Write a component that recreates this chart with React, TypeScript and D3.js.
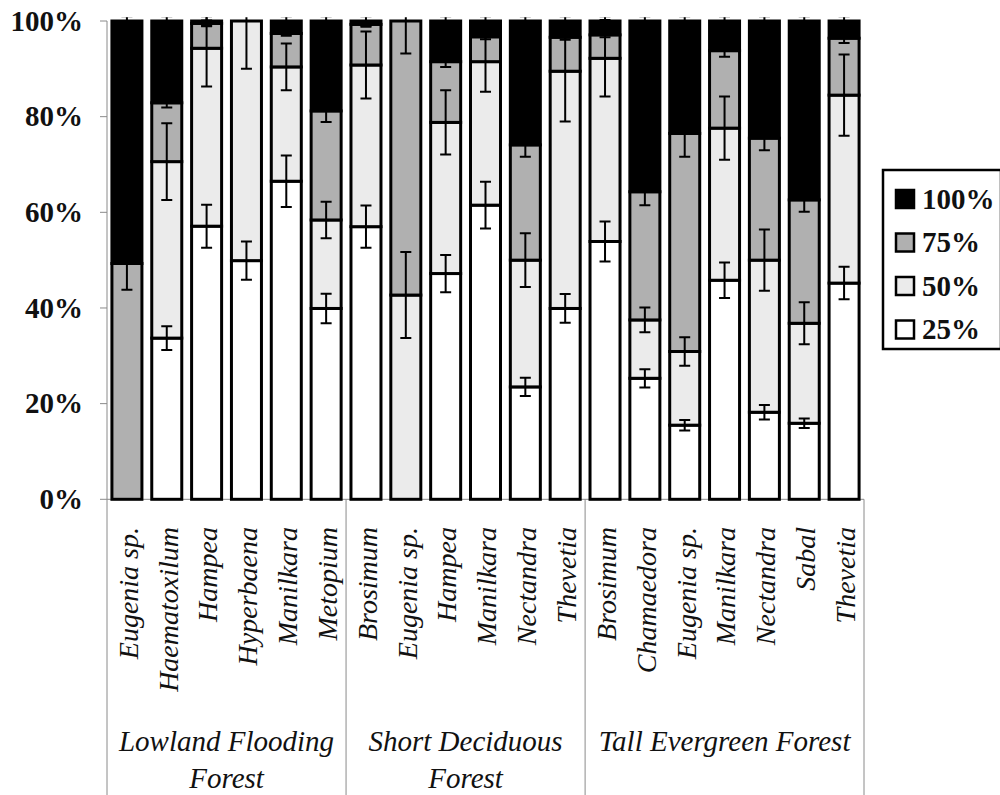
import React from "react";
import * as d3 from "d3";

const species = [
  "Eugenia sp.", "Haematoxilum", "Hampea", "Hyperbaena", "Manilkara", "Metopium",
  "Brosimum", "Eugenia sp.", "Hampea", "Manilkara", "Nectandra", "Thevetia",
  "Brosimum", "Chamaedora", "Eugenia sp.", "Manilkara", "Nectandra", "Sabal", "Thevetia",
];
const groupLabels = [["Lowland Flooding", "Forest"], ["Short Deciduous", "Forest"], ["Tall Evergreen Forest"]];
const groupSizes = [6, 6, 7];

const seriesKeys = ["25%", "50%", "75%", "100%"];
const legendKeys = ["100%", "75%", "50%", "25%"];

// segment values (percent of bar)
const p25 = [0, 33.7, 57.1, 49.9, 66.5, 39.9, 57.0, 0, 47.2, 61.5, 23.5, 39.9, 53.9, 25.3, 15.5, 45.8, 18.2, 15.9, 45.2];
const p50 = [0, 36.9, 37.2, 50.1, 23.9, 18.5, 33.8, 42.7, 31.6, 30.0, 26.5, 49.6, 38.3, 12.2, 15.4, 31.8, 31.8, 20.9, 39.3];
const p75 = [49.3, 12.3, 5.2, 0, 7.0, 22.8, 8.5, 57.3, 12.7, 5.2, 24.1, 7.1, 4.9, 26.8, 45.6, 16.2, 25.5, 25.8, 11.9];
const p100 = [50.7, 17.1, 0.5, 0, 2.6, 18.8, 0.7, 0, 8.5, 3.3, 25.9, 3.4, 2.9, 35.7, 23.5, 6.2, 24.5, 37.4, 3.6];

// error values at the top of each segment
const e25 = [0, 2.5, 4.5, 4, 5.4, 3.1, 4.4, 0, 3.9, 4.9, 1.9, 3, 4.2, 1.9, 1.1, 3.7, 1.5, 1, 3.4];
const e50 = [0, 8, 8, 10, 4.9, 3.8, 7, 9, 6.7, 6.3, 5.6, 10.5, 8, 2.6, 3, 6.6, 6.4, 4.4, 8.5];
const e75 = [5.5, 1, 0.6, 0, 0.5, 2.3, 0.5, 6.8, 1.1, 0.5, 2.5, 0.5, 0.5, 2.8, 4.9, 1.3, 2.5, 2.5, 1];
const e100 = [1, 1, 1, 0, 1, 1, 1, 0, 1, 1, 1, 1, 1, 1, 1, 1, 1, 1, 1];

const yTicks = [0, 20, 40, 60, 80, 100];

const fills: Record<string, string> = { "25%": "#ffffff", "50%": "#ebebeb", "75%": "#b0b0b0", "100%": "#000000" };

const SERIF = '"Liberation Serif"';

export default function App() {
  const W = 1000, H = 795;
  const left = 107, right = 864, top = 21, bottom = 499.3;
  const ts: React.CSSProperties = { fontFamily: SERIF };

  const rows = species.map((s, i) => ({ i, "25%": p25[i], "50%": p50[i], "75%": p75[i], "100%": p100[i] }));
  const errs: Record<string, number[]> = { "25%": e25, "50%": e50, "75%": e75, "100%": e100 };
  const vals: Record<string, number[]> = { "25%": p25, "50%": p50, "75%": p75, "100%": p100 };

  const stacked = d3.stack<any>().keys(seriesKeys)(rows);

  const x = d3.scaleBand<number>().domain(species.map((_, i) => i)).range([left, right]).paddingInner(0.247).paddingOuter(0.1235);
  const y = d3.scaleLinear().domain([0, 100]).range([bottom, top]);
  const bw = x.bandwidth();
  const step = x.step();

  const bounds: number[] = [0];
  groupSizes.forEach((g) => bounds.push(bounds[bounds.length - 1] + g));
  const bx = (k: number) => left + k * step;

  const capW = 11;

  return (
    <svg width={W} height={H} style={{ position: "absolute", left: 0, top: 0, background: "#fff" }}>
      <defs>
        <clipPath id="plotclip">
          <rect x={left} y={y(100.8)} width={right - left} height={bottom - y(100.8) + 2} />
        </clipPath>
      </defs>

      {/* y axis */}
      <line x1={left} x2={left} y1={top} y2={bottom} stroke="#8a8a8a" strokeWidth={1} />
      {yTicks.map((t) => (
        <g key={t}>
          <line x1={left - 7} x2={left} y1={y(t)} y2={y(t)} stroke="#8a8a8a" strokeWidth={1} />
          <text x={83} y={y(t)} dy="0.33em" textAnchor="end" fontSize={29} fontWeight="bold" fill="#111" style={ts}>
            {t}%
          </text>
        </g>
      ))}

      {/* x axis + separators */}
      <line x1={left} x2={right} y1={bottom} y2={bottom} stroke="#8a8a8a" strokeWidth={1} />
      {bounds.map((b, k) => (
        <line key={k} x1={bx(b)} x2={bx(b)} y1={bottom} y2={H} stroke="#8a8a8a" strokeWidth={1} />
      ))}

      {/* bars */}
      {stacked.map((layer) => (
        <g key={layer.key}>
          {layer.map((d, i) => {
            const v = vals[layer.key][i];
            if (v <= 0) return null;
            return (
              <rect
                key={i}
                x={x(i)!}
                y={y(d[1])}
                width={bw}
                height={y(d[0]) - y(d[1])}
                fill={fills[layer.key]}
                stroke="#000"
                strokeWidth={3}
              />
            );
          })}
        </g>
      ))}

      {/* error bars */}
      <g clipPath="url(#plotclip)" stroke="#000" strokeWidth={2}>
        {stacked.map((layer) =>
          layer.map((d, i) => {
            const e = errs[layer.key][i];
            if (vals[layer.key][i] <= 0 || e <= 0) return null;
            const cx = x(i)! + bw / 2;
            const y1 = y(d[1] + e);
            const y2 = y(d[1] - e);
            return (
              <g key={layer.key + i}>
                <line x1={cx} x2={cx} y1={y1} y2={y2} />
                <line x1={cx - capW / 2} x2={cx + capW / 2} y1={y1} y2={y1} />
                <line x1={cx - capW / 2} x2={cx + capW / 2} y1={y2} y2={y2} />
              </g>
            );
          })
        )}
      </g>

      {/* category labels */}
      {species.map((s, i) => {
        const cx = x(i)! + bw / 2;
        return (
          <text
            key={i}
            transform={`translate(${cx + 1},527) rotate(-90)`}
            dy="0.35em"
            textAnchor="end"
            fontSize={28}
            fontStyle="italic"
            fill="#111"
            style={ts}
          >
            {s}
          </text>
        );
      })}

      {/* group labels */}
      {groupLabels.map((lines, g) => {
        const cx = (bx(bounds[g]) + bx(bounds[g + 1])) / 2;
        return (
          <text key={g} x={cx} y={751} textAnchor="middle" fontSize={29} fontStyle="italic" fill="#111" style={ts}>
            {lines.map((ln, k) => (
              <tspan key={k} x={cx} y={751 + k * 37}>
                {ln}
              </tspan>
            ))}
          </text>
        );
      })}

      {/* legend */}
      <rect x={883} y={170} width={118} height={179} fill="#fff" stroke="#000" strokeWidth={2.5} />
      {legendKeys.map((k, j) => {
        const cy = 199 + j * 43.5;
        return (
          <g key={k}>
            <rect x={896} y={cy - 9} width={18} height={18} fill={fills[k]} stroke="#000" strokeWidth={2.5} />
            <text x={922} y={cy} dy="0.33em" fontSize={29} fontWeight="bold" fill="#111" style={ts}>
              {k}
            </text>
          </g>
        );
      })}
    </svg>
  );
}
